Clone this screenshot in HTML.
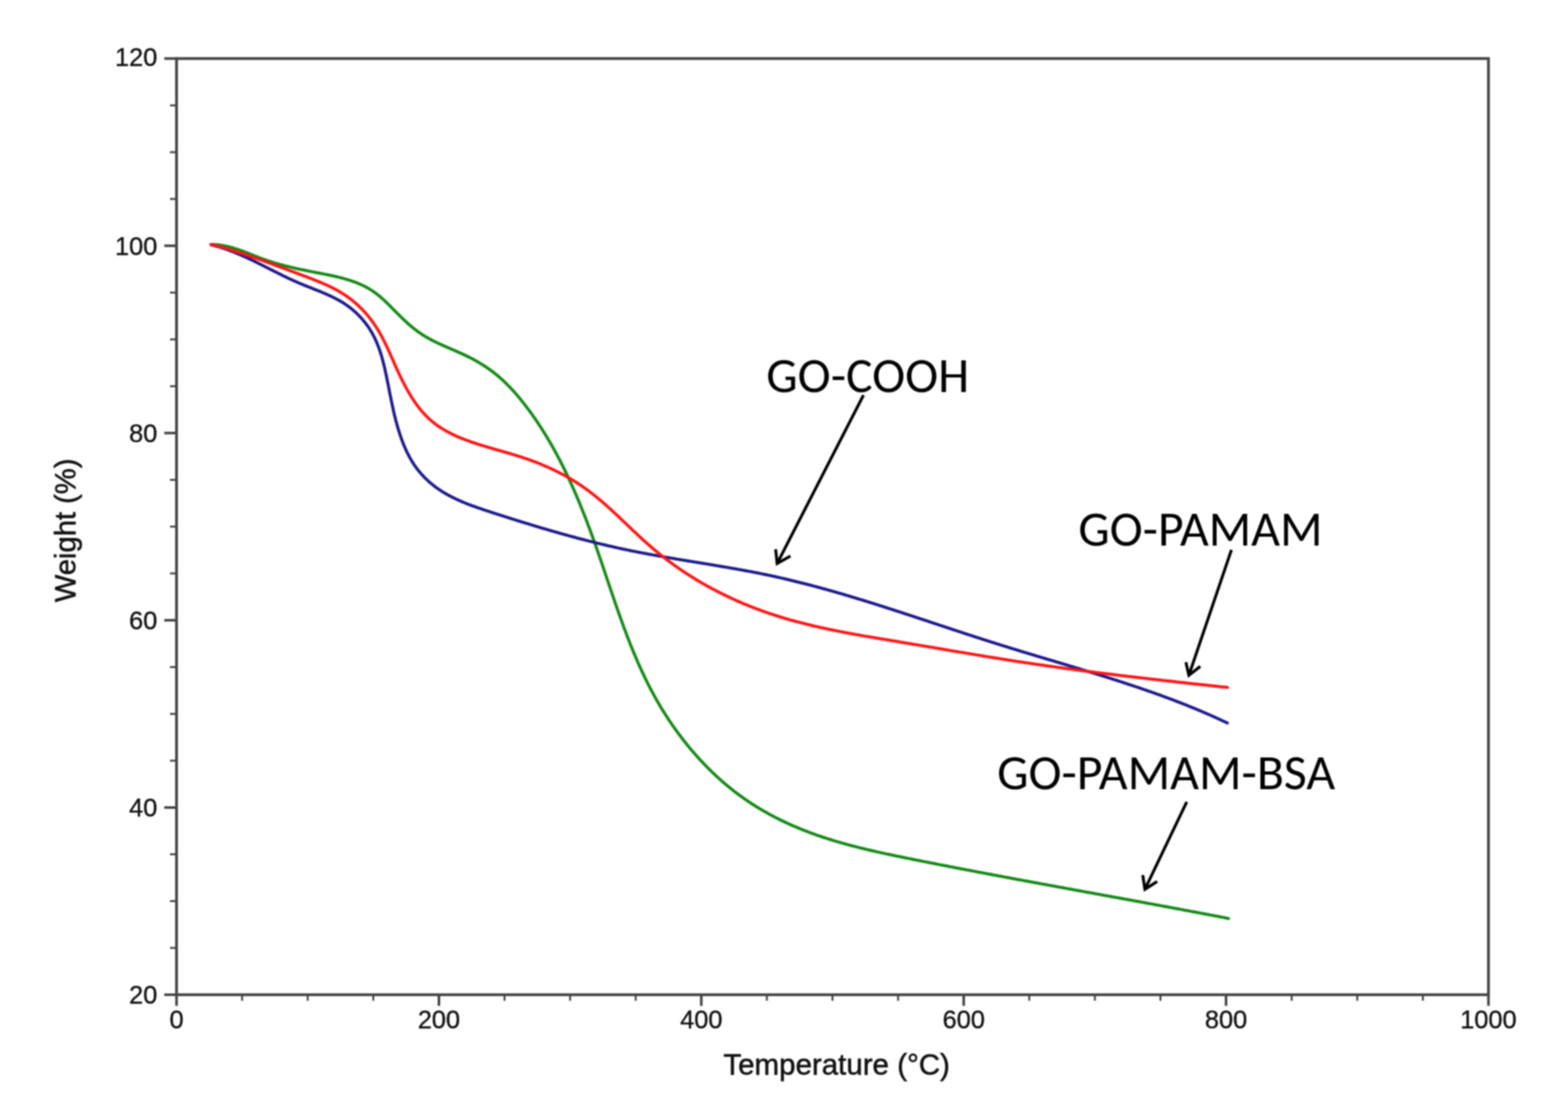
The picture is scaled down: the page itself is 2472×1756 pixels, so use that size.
<!DOCTYPE html><html><head><meta charset="utf-8"><title>TGA curves</title><style>
html,body{margin:0;padding:0;background:#fff;}body{width:2472px;height:1756px;overflow:hidden;}
svg{display:block;filter:blur(1px);}
.tl{font-family:"Liberation Sans",Arial,sans-serif;font-size:40px;fill:#111;stroke:#111;stroke-width:0.5px;}
.ax{font-family:"Liberation Sans",Arial,sans-serif;font-size:46px;fill:#111;stroke:#111;stroke-width:0.8px;}
.an{font-family:Carlito,"Liberation Sans",sans-serif;font-size:78px;font-size-adjust:cap-height 0.6416;fill:#000;}
</style></head><body>
<svg width="2472" height="1756" viewBox="0 0 2472 1756">
<rect width="2472" height="1756" fill="#fff"/>
<line x1="259" y1="1568.0" x2="278.3" y2="1568.0" stroke="#404040" stroke-width="4"/><line x1="268" y1="1494.2" x2="278.3" y2="1494.2" stroke="#404040" stroke-width="3"/><line x1="268" y1="1420.4" x2="278.3" y2="1420.4" stroke="#404040" stroke-width="3"/><line x1="268" y1="1346.6" x2="278.3" y2="1346.6" stroke="#404040" stroke-width="3"/><line x1="259" y1="1272.9" x2="278.3" y2="1272.9" stroke="#404040" stroke-width="4"/><line x1="268" y1="1199.1" x2="278.3" y2="1199.1" stroke="#404040" stroke-width="3"/><line x1="268" y1="1125.3" x2="278.3" y2="1125.3" stroke="#404040" stroke-width="3"/><line x1="268" y1="1051.5" x2="278.3" y2="1051.5" stroke="#404040" stroke-width="3"/><line x1="259" y1="977.7" x2="278.3" y2="977.7" stroke="#404040" stroke-width="4"/><line x1="268" y1="903.9" x2="278.3" y2="903.9" stroke="#404040" stroke-width="3"/><line x1="268" y1="830.1" x2="278.3" y2="830.1" stroke="#404040" stroke-width="3"/><line x1="268" y1="756.4" x2="278.3" y2="756.4" stroke="#404040" stroke-width="3"/><line x1="259" y1="682.6" x2="278.3" y2="682.6" stroke="#404040" stroke-width="4"/><line x1="268" y1="608.8" x2="278.3" y2="608.8" stroke="#404040" stroke-width="3"/><line x1="268" y1="535.0" x2="278.3" y2="535.0" stroke="#404040" stroke-width="3"/><line x1="268" y1="461.2" x2="278.3" y2="461.2" stroke="#404040" stroke-width="3"/><line x1="259" y1="387.4" x2="278.3" y2="387.4" stroke="#404040" stroke-width="4"/><line x1="268" y1="313.7" x2="278.3" y2="313.7" stroke="#404040" stroke-width="3"/><line x1="268" y1="239.9" x2="278.3" y2="239.9" stroke="#404040" stroke-width="3"/><line x1="268" y1="166.1" x2="278.3" y2="166.1" stroke="#404040" stroke-width="3"/><line x1="259" y1="92.3" x2="278.3" y2="92.3" stroke="#404040" stroke-width="4"/><line x1="278.3" y1="1568.0" x2="278.3" y2="1585.5" stroke="#404040" stroke-width="4"/><line x1="381.7" y1="1568.0" x2="381.7" y2="1577.5" stroke="#404040" stroke-width="3"/><line x1="485.1" y1="1568.0" x2="485.1" y2="1577.5" stroke="#404040" stroke-width="3"/><line x1="588.5" y1="1568.0" x2="588.5" y2="1577.5" stroke="#404040" stroke-width="3"/><line x1="692.0" y1="1568.0" x2="692.0" y2="1585.5" stroke="#404040" stroke-width="4"/><line x1="795.4" y1="1568.0" x2="795.4" y2="1577.5" stroke="#404040" stroke-width="3"/><line x1="898.8" y1="1568.0" x2="898.8" y2="1577.5" stroke="#404040" stroke-width="3"/><line x1="1002.2" y1="1568.0" x2="1002.2" y2="1577.5" stroke="#404040" stroke-width="3"/><line x1="1105.6" y1="1568.0" x2="1105.6" y2="1585.5" stroke="#404040" stroke-width="4"/><line x1="1209.0" y1="1568.0" x2="1209.0" y2="1577.5" stroke="#404040" stroke-width="3"/><line x1="1312.4" y1="1568.0" x2="1312.4" y2="1577.5" stroke="#404040" stroke-width="3"/><line x1="1415.9" y1="1568.0" x2="1415.9" y2="1577.5" stroke="#404040" stroke-width="3"/><line x1="1519.3" y1="1568.0" x2="1519.3" y2="1585.5" stroke="#404040" stroke-width="4"/><line x1="1622.7" y1="1568.0" x2="1622.7" y2="1577.5" stroke="#404040" stroke-width="3"/><line x1="1726.1" y1="1568.0" x2="1726.1" y2="1577.5" stroke="#404040" stroke-width="3"/><line x1="1829.5" y1="1568.0" x2="1829.5" y2="1577.5" stroke="#404040" stroke-width="3"/><line x1="1932.9" y1="1568.0" x2="1932.9" y2="1585.5" stroke="#404040" stroke-width="4"/><line x1="2036.4" y1="1568.0" x2="2036.4" y2="1577.5" stroke="#404040" stroke-width="3"/><line x1="2139.8" y1="1568.0" x2="2139.8" y2="1577.5" stroke="#404040" stroke-width="3"/><line x1="2243.2" y1="1568.0" x2="2243.2" y2="1577.5" stroke="#404040" stroke-width="3"/><line x1="2346.6" y1="1568.0" x2="2346.6" y2="1585.5" stroke="#404040" stroke-width="4"/>
<rect x="278.3" y="92.3" width="2068.3" height="1475.7" fill="none" stroke="#444" stroke-width="4.4"/>
<text class="tl" x="248" y="1582.3" text-anchor="end">20</text>
<text class="tl" x="248" y="1287.2" text-anchor="end">40</text>
<text class="tl" x="248" y="992.0" text-anchor="end">60</text>
<text class="tl" x="248" y="696.9" text-anchor="end">80</text>
<text class="tl" x="248" y="401.7" text-anchor="end">100</text>
<text class="tl" x="248" y="103.6" text-anchor="end">120</text>
<text class="tl" x="278.3" y="1621" text-anchor="middle">0</text>
<text class="tl" x="692.0" y="1621" text-anchor="middle">200</text>
<text class="tl" x="1105.6" y="1621" text-anchor="middle">400</text>
<text class="tl" x="1519.3" y="1621" text-anchor="middle">600</text>
<text class="tl" x="1932.9" y="1621" text-anchor="middle">800</text>
<text class="tl" x="2346.6" y="1621" text-anchor="middle">1000</text>
<text class="ax" x="1319" y="1694" text-anchor="middle" style="font-size:46.5px">Temperature (°C)</text>
<text class="ax" transform="translate(118.5,836) rotate(-90)" text-anchor="middle">Weight (%)</text>
<path d="M335.0,385.5 L337.3,385.5 L339.7,385.6 L342.0,385.8 L344.3,386.0 L346.6,386.3 L348.9,386.6 L351.2,387.0 L353.4,387.4 L355.7,387.8 L358.0,388.3 L360.2,388.8 L362.4,389.4 L364.7,390.0 L366.9,390.6 L369.1,391.3 L371.3,392.0 L373.5,392.7 L375.7,393.4 L377.9,394.2 L380.1,395.0 L382.2,395.8 L384.4,396.6 L386.6,397.4 L388.8,398.3 L390.9,399.1 L393.1,399.9 L395.2,400.8 L397.4,401.7 L399.6,402.5 L401.7,403.4 L403.9,404.2 L406.1,405.1 L408.2,405.9 L410.4,406.7 L412.6,407.6 L414.7,408.4 L416.9,409.1 L419.1,409.9 L421.3,410.7 L423.5,411.4 L425.6,412.1 L427.8,412.8 L430.0,413.5 L432.2,414.2 L434.4,414.8 L436.6,415.5 L438.8,416.1 L441.1,416.7 L443.3,417.3 L445.5,417.9 L447.7,418.5 L449.9,419.1 L452.2,419.6 L454.4,420.2 L456.6,420.7 L458.9,421.3 L461.1,421.8 L463.3,422.3 L465.6,422.8 L467.8,423.3 L470.1,423.8 L472.3,424.3 L474.6,424.8 L476.9,425.2 L479.1,425.7 L481.4,426.2 L483.7,426.6 L485.9,427.1 L488.2,427.6 L490.5,428.0 L492.8,428.5 L495.0,428.9 L497.3,429.3 L499.6,429.8 L501.9,430.2 L504.2,430.7 L506.5,431.1 L508.8,431.6 L511.1,432.0 L513.4,432.5 L515.7,432.9 L518.0,433.4 L520.2,433.9 L522.5,434.4 L524.8,434.9 L527.1,435.4 L529.4,435.9 L531.6,436.4 L533.9,437.0 L536.2,437.5 L538.4,438.1 L540.6,438.7 L542.9,439.3 L545.1,440.0 L547.3,440.6 L549.5,441.3 L551.7,442.0 L553.9,442.7 L556.0,443.4 L558.2,444.2 L560.3,445.0 L562.5,445.8 L564.6,446.7 L566.7,447.6 L568.8,448.5 L570.8,449.4 L572.9,450.4 L574.9,451.4 L576.9,452.4 L578.9,453.5 L580.9,454.6 L582.8,455.8 L584.8,457.0 L586.7,458.2 L588.6,459.5 L590.4,460.8 L592.3,462.2 L594.1,463.5 L595.9,465.0 L597.7,466.4 L599.5,467.9 L601.2,469.4 L603.0,471.0 L604.7,472.5 L606.4,474.1 L608.1,475.7 L609.8,477.3 L611.5,479.0 L613.2,480.6 L614.9,482.3 L616.5,484.0 L618.2,485.6 L619.8,487.3 L621.5,489.0 L623.2,490.7 L624.8,492.4 L626.5,494.0 L628.1,495.7 L629.8,497.3 L631.5,499.0 L633.1,500.6 L634.8,502.2 L636.5,503.8 L638.2,505.4 L639.9,507.0 L641.6,508.6 L643.3,510.1 L645.0,511.6 L646.8,513.1 L648.5,514.6 L650.3,516.1 L652.1,517.5 L653.8,518.9 L655.6,520.3 L657.5,521.7 L659.3,523.0 L661.2,524.3 L663.0,525.6 L664.9,526.9 L666.8,528.1 L668.7,529.3 L670.7,530.5 L672.7,531.6 L674.6,532.8 L676.6,533.9 L678.6,535.0 L680.6,536.0 L682.7,537.1 L684.7,538.1 L686.8,539.1 L688.8,540.1 L690.9,541.1 L693.0,542.1 L695.1,543.0 L697.2,544.0 L699.3,544.9 L701.4,545.8 L703.5,546.8 L705.7,547.7 L707.8,548.6 L709.9,549.5 L712.0,550.5 L714.2,551.4 L716.3,552.3 L718.4,553.2 L720.6,554.2 L722.7,555.1 L724.8,556.1 L726.9,557.0 L729.0,558.0 L731.2,559.0 L733.3,560.0 L735.4,561.0 L737.4,562.0 L739.5,563.0 L741.6,564.1 L743.7,565.1 L745.7,566.2 L747.8,567.3 L749.8,568.5 L751.8,569.6 L753.8,570.8 L755.8,572.0 L757.8,573.2 L759.8,574.4 L761.8,575.6 L763.7,576.9 L765.7,578.1 L767.6,579.4 L769.5,580.7 L771.4,582.1 L773.3,583.4 L775.1,584.8 L777.0,586.2 L778.8,587.6 L780.6,589.0 L782.4,590.5 L784.2,591.9 L786.0,593.4 L787.7,594.9 L789.4,596.5 L791.2,598.0 L792.9,599.6 L794.5,601.1 L796.2,602.7 L797.9,604.3 L799.5,606.0 L801.1,607.6 L802.8,609.3 L804.4,610.9 L805.9,612.6 L807.5,614.3 L809.1,616.0 L810.6,617.7 L812.2,619.5 L813.7,621.2 L815.2,623.0 L816.7,624.7 L818.2,626.5 L819.7,628.3 L821.1,630.1 L822.6,631.9 L824.0,633.7 L825.5,635.5 L826.9,637.3 L828.3,639.2 L829.7,641.0 L831.1,642.8 L832.5,644.7 L833.9,646.5 L835.2,648.4 L836.6,650.3 L838.0,652.1 L839.3,654.0 L840.6,655.9 L842.0,657.8 L843.3,659.7 L844.6,661.6 L845.9,663.5 L847.2,665.4 L848.4,667.3 L849.7,669.2 L851.0,671.2 L852.2,673.1 L853.5,675.0 L854.7,677.0 L856.0,678.9 L857.2,680.9 L858.4,682.8 L859.6,684.8 L860.8,686.8 L862.0,688.7 L863.2,690.7 L864.4,692.7 L865.6,694.7 L866.7,696.7 L867.9,698.6 L869.0,700.6 L870.2,702.6 L871.3,704.7 L872.4,706.7 L873.5,708.7 L874.7,710.7 L875.8,712.7 L876.9,714.7 L878.0,716.8 L879.0,718.8 L880.1,720.8 L881.2,722.9 L882.3,724.9 L883.3,727.0 L884.4,729.0 L885.4,731.1 L886.5,733.2 L887.5,735.2 L888.5,737.3 L889.5,739.4 L890.6,741.4 L891.6,743.5 L892.6,745.6 L893.6,747.7 L894.6,749.8 L895.5,751.9 L896.5,754.0 L897.5,756.1 L898.5,758.2 L899.4,760.3 L900.4,762.4 L901.3,764.5 L902.3,766.6 L903.2,768.7 L904.2,770.8 L905.1,772.9 L906.0,775.1 L907.0,777.2 L907.9,779.3 L908.8,781.5 L909.7,783.6 L910.6,785.7 L911.5,787.9 L912.4,790.0 L913.3,792.1 L914.2,794.3 L915.0,796.4 L915.9,798.6 L916.8,800.7 L917.6,802.9 L918.5,805.0 L919.4,807.2 L920.2,809.4 L921.1,811.5 L921.9,813.7 L922.8,815.8 L923.6,818.0 L924.4,820.2 L925.3,822.4 L926.1,824.5 L926.9,826.7 L927.7,828.9 L928.5,831.0 L929.4,833.2 L930.2,835.4 L931.0,837.6 L931.8,839.8 L932.6,841.9 L933.4,844.1 L934.2,846.3 L935.0,848.5 L935.7,850.7 L936.5,852.9 L937.3,855.1 L938.1,857.2 L938.9,859.4 L939.6,861.6 L940.4,863.8 L941.2,866.0 L942.0,868.2 L942.7,870.4 L943.5,872.6 L944.2,874.8 L945.0,877.0 L945.8,879.2 L946.5,881.4 L947.3,883.6 L948.0,885.7 L948.8,887.9 L949.5,890.1 L950.3,892.3 L951.0,894.5 L951.7,896.7 L952.5,898.9 L953.2,901.1 L954.0,903.3 L954.7,905.5 L955.5,907.7 L956.2,909.9 L956.9,912.1 L957.7,914.3 L958.4,916.5 L959.2,918.7 L959.9,920.9 L960.6,923.1 L961.4,925.3 L962.1,927.4 L962.9,929.6 L963.6,931.8 L964.3,934.0 L965.1,936.2 L965.8,938.4 L966.6,940.6 L967.3,942.8 L968.1,945.0 L968.8,947.2 L969.6,949.3 L970.3,951.5 L971.1,953.7 L971.8,955.9 L972.6,958.1 L973.3,960.2 L974.1,962.4 L974.9,964.6 L975.6,966.8 L976.4,969.0 L977.2,971.1 L977.9,973.3 L978.7,975.5 L979.5,977.6 L980.3,979.8 L981.1,982.0 L981.9,984.1 L982.6,986.3 L983.4,988.5 L984.2,990.6 L985.0,992.8 L985.8,994.9 L986.7,997.1 L987.5,999.3 L988.3,1001.4 L989.1,1003.6 L989.9,1005.7 L990.8,1007.8 L991.6,1010.0 L992.4,1012.1 L993.3,1014.3 L994.1,1016.4 L995.0,1018.5 L995.8,1020.7 L996.7,1022.8 L997.6,1024.9 L998.4,1027.1 L999.3,1029.2 L1000.2,1031.3 L1001.1,1033.4 L1002.0,1035.5 L1002.9,1037.7 L1003.8,1039.8 L1004.7,1041.9 L1005.6,1044.0 L1006.6,1046.1 L1007.5,1048.2 L1008.4,1050.3 L1009.4,1052.4 L1010.3,1054.5 L1011.3,1056.6 L1012.2,1058.6 L1013.2,1060.7 L1014.2,1062.8 L1015.2,1064.9 L1016.2,1067.0 L1017.2,1069.0 L1018.2,1071.1 L1019.2,1073.2 L1020.2,1075.2 L1021.2,1077.3 L1022.3,1079.3 L1023.3,1081.4 L1024.4,1083.4 L1025.4,1085.5 L1026.5,1087.5 L1027.6,1089.6 L1028.7,1091.6 L1029.8,1093.6 L1030.9,1095.6 L1032.0,1097.7 L1033.1,1099.7 L1034.2,1101.7 L1035.4,1103.7 L1036.5,1105.7 L1037.7,1107.7 L1038.9,1109.7 L1040.0,1111.7 L1041.2,1113.7 L1042.4,1115.7 L1043.6,1117.7 L1044.8,1119.7 L1046.1,1121.6 L1047.3,1123.6 L1048.5,1125.6 L1049.8,1127.5 L1051.1,1129.5 L1052.3,1131.4 L1053.6,1133.4 L1054.9,1135.3 L1056.2,1137.2 L1057.5,1139.2 L1058.8,1141.1 L1060.1,1143.0 L1061.4,1144.9 L1062.8,1146.8 L1064.1,1148.7 L1065.5,1150.6 L1066.8,1152.5 L1068.2,1154.4 L1069.6,1156.3 L1071.0,1158.1 L1072.4,1160.0 L1073.8,1161.9 L1075.2,1163.7 L1076.6,1165.6 L1078.1,1167.4 L1079.5,1169.2 L1081.0,1171.1 L1082.4,1172.9 L1083.9,1174.7 L1085.3,1176.5 L1086.8,1178.3 L1088.3,1180.1 L1089.8,1181.9 L1091.3,1183.7 L1092.8,1185.4 L1094.4,1187.2 L1095.9,1188.9 L1097.4,1190.7 L1099.0,1192.4 L1100.6,1194.2 L1102.1,1195.9 L1103.7,1197.6 L1105.3,1199.3 L1106.9,1201.0 L1108.5,1202.7 L1110.1,1204.4 L1111.7,1206.0 L1113.3,1207.7 L1114.9,1209.4 L1116.6,1211.0 L1118.2,1212.7 L1119.9,1214.3 L1121.5,1215.9 L1123.2,1217.5 L1124.9,1219.1 L1126.6,1220.7 L1128.3,1222.3 L1130.0,1223.9 L1131.7,1225.5 L1133.4,1227.0 L1135.1,1228.6 L1136.8,1230.1 L1138.6,1231.6 L1140.3,1233.1 L1142.1,1234.7 L1143.8,1236.2 L1145.6,1237.6 L1147.4,1239.1 L1149.2,1240.6 L1151.0,1242.0 L1152.8,1243.5 L1154.6,1244.9 L1156.4,1246.4 L1158.2,1247.8 L1160.0,1249.2 L1161.9,1250.6 L1163.7,1252.0 L1165.6,1253.3 L1167.4,1254.7 L1169.3,1256.0 L1171.2,1257.4 L1173.0,1258.7 L1174.9,1260.0 L1176.8,1261.3 L1178.7,1262.6 L1180.6,1263.9 L1182.5,1265.2 L1184.5,1266.4 L1186.4,1267.7 L1188.3,1268.9 L1190.3,1270.2 L1192.2,1271.4 L1194.2,1272.6 L1196.2,1273.8 L1198.1,1275.0 L1200.1,1276.1 L1202.1,1277.3 L1204.1,1278.5 L1206.1,1279.6 L1208.1,1280.7 L1210.1,1281.8 L1212.1,1283.0 L1214.1,1284.1 L1216.1,1285.1 L1218.1,1286.2 L1220.2,1287.3 L1222.2,1288.3 L1224.3,1289.4 L1226.3,1290.4 L1228.4,1291.5 L1230.4,1292.5 L1232.5,1293.5 L1234.6,1294.5 L1236.7,1295.5 L1238.7,1296.5 L1240.8,1297.4 L1242.9,1298.4 L1245.0,1299.3 L1247.1,1300.3 L1249.2,1301.2 L1251.3,1302.1 L1253.4,1303.0 L1255.6,1303.9 L1257.7,1304.8 L1259.8,1305.7 L1261.9,1306.6 L1264.1,1307.5 L1266.2,1308.3 L1268.4,1309.2 L1270.5,1310.0 L1272.7,1310.8 L1274.8,1311.6 L1277.0,1312.5 L1279.1,1313.3 L1281.3,1314.1 L1283.5,1314.8 L1285.6,1315.6 L1287.8,1316.4 L1290.0,1317.2 L1292.2,1317.9 L1294.4,1318.6 L1296.5,1319.4 L1298.7,1320.1 L1300.9,1320.8 L1303.1,1321.5 L1305.3,1322.2 L1307.5,1322.9 L1309.7,1323.6 L1311.9,1324.3 L1314.1,1325.0 L1316.4,1325.7 L1318.6,1326.3 L1320.8,1327.0 L1323.0,1327.6 L1325.2,1328.3 L1327.5,1328.9 L1329.7,1329.5 L1331.9,1330.1 L1334.2,1330.8 L1336.4,1331.4 L1338.6,1332.0 L1340.9,1332.6 L1343.1,1333.2 L1345.3,1333.7 L1347.6,1334.3 L1349.8,1334.9 L1352.1,1335.5 L1354.3,1336.0 L1356.6,1336.6 L1358.8,1337.1 L1361.1,1337.7 L1363.3,1338.2 L1365.6,1338.8 L1367.9,1339.3 L1370.1,1339.9 L1372.4,1340.4 L1374.6,1340.9 L1376.9,1341.4 L1379.2,1341.9 L1381.4,1342.5 L1383.7,1343.0 L1386.0,1343.5 L1388.2,1344.0 L1390.5,1344.5 L1392.8,1345.0 L1395.1,1345.5 L1397.3,1346.0 L1399.6,1346.4 L1401.9,1346.9 L1404.2,1347.4 L1406.4,1347.9 L1408.7,1348.4 L1411.0,1348.8 L1413.3,1349.3 L1415.5,1349.8 L1417.8,1350.2 L1420.1,1350.7 L1422.4,1351.2 L1424.7,1351.6 L1426.9,1352.1 L1429.2,1352.6 L1431.5,1353.0 L1433.8,1353.5 L1436.1,1353.9 L1438.3,1354.4 L1440.6,1354.9 L1442.9,1355.3 L1445.2,1355.8 L1447.5,1356.2 L1449.7,1356.7 L1452.0,1357.1 L1454.3,1357.6 L1456.6,1358.0 L1458.8,1358.5 L1461.1,1358.9 L1463.4,1359.4 L1465.7,1359.8 L1468.0,1360.3 L1470.2,1360.7 L1472.5,1361.2 L1474.8,1361.6 L1477.1,1362.1 L1479.3,1362.5 L1481.6,1363.0 L1483.9,1363.4 L1486.2,1363.9 L1488.5,1364.3 L1490.7,1364.7 L1493.0,1365.2 L1495.3,1365.6 L1497.6,1366.1 L1499.8,1366.5 L1502.1,1366.9 L1504.4,1367.4 L1506.7,1367.8 L1508.9,1368.3 L1511.2,1368.7 L1513.5,1369.1 L1515.8,1369.6 L1518.0,1370.0 L1520.3,1370.4 L1522.6,1370.9 L1524.9,1371.3 L1527.1,1371.7 L1529.4,1372.2 L1531.7,1372.6 L1534.0,1373.0 L1536.2,1373.5 L1538.5,1373.9 L1540.8,1374.3 L1543.1,1374.8 L1545.3,1375.2 L1547.6,1375.6 L1549.9,1376.1 L1552.2,1376.5 L1554.4,1376.9 L1556.7,1377.4 L1559.0,1377.8 L1561.3,1378.2 L1563.5,1378.6 L1565.8,1379.1 L1568.1,1379.5 L1570.4,1379.9 L1572.6,1380.3 L1574.9,1380.8 L1577.2,1381.2 L1579.4,1381.6 L1581.7,1382.0 L1584.0,1382.5 L1586.3,1382.9 L1588.5,1383.3 L1590.8,1383.7 L1593.1,1384.2 L1595.4,1384.6 L1597.6,1385.0 L1599.9,1385.4 L1602.2,1385.9 L1604.5,1386.3 L1606.7,1386.7 L1609.0,1387.1 L1611.3,1387.5 L1613.5,1388.0 L1615.8,1388.4 L1618.1,1388.8 L1620.4,1389.2 L1622.6,1389.6 L1624.9,1390.1 L1627.2,1390.5 L1629.5,1390.9 L1631.7,1391.3 L1634.0,1391.7 L1636.3,1392.1 L1638.5,1392.6 L1640.8,1393.0 L1643.1,1393.4 L1645.4,1393.8 L1647.6,1394.2 L1649.9,1394.7 L1652.2,1395.1 L1654.5,1395.5 L1656.7,1395.9 L1659.0,1396.3 L1661.3,1396.7 L1663.5,1397.2 L1665.8,1397.6 L1668.1,1398.0 L1670.4,1398.4 L1672.6,1398.8 L1674.9,1399.2 L1677.2,1399.6 L1679.5,1400.1 L1681.7,1400.5 L1684.0,1400.9 L1686.3,1401.3 L1688.5,1401.7 L1690.8,1402.1 L1693.1,1402.6 L1695.4,1403.0 L1697.6,1403.4 L1699.9,1403.8 L1702.2,1404.2 L1704.5,1404.6 L1706.7,1405.0 L1709.0,1405.5 L1711.3,1405.9 L1713.5,1406.3 L1715.8,1406.7 L1718.1,1407.1 L1720.4,1407.5 L1722.6,1407.9 L1724.9,1408.4 L1727.2,1408.8 L1729.5,1409.2 L1731.7,1409.6 L1734.0,1410.0 L1736.3,1410.4 L1738.6,1410.8 L1740.8,1411.3 L1743.1,1411.7 L1745.4,1412.1 L1747.7,1412.5 L1749.9,1412.9 L1752.2,1413.3 L1754.5,1413.8 L1756.8,1414.2 L1759.0,1414.6 L1761.3,1415.0 L1763.6,1415.4 L1765.9,1415.8 L1768.1,1416.2 L1770.4,1416.7 L1772.7,1417.1 L1775.0,1417.5 L1777.2,1417.9 L1779.5,1418.3 L1781.8,1418.7 L1784.1,1419.2 L1786.3,1419.6 L1788.6,1420.0 L1790.9,1420.4 L1793.2,1420.8 L1795.4,1421.2 L1797.7,1421.7 L1800.0,1422.1 L1802.3,1422.5 L1804.5,1422.9 L1806.8,1423.3 L1809.1,1423.8 L1811.4,1424.2 L1813.6,1424.6 L1815.9,1425.0 L1818.2,1425.4 L1820.5,1425.9 L1822.7,1426.3 L1825.0,1426.7 L1827.3,1427.1 L1829.6,1427.5 L1831.9,1428.0 L1834.1,1428.4 L1836.4,1428.8 L1838.7,1429.2 L1841.0,1429.7 L1843.2,1430.1 L1845.5,1430.5 L1847.8,1430.9 L1850.1,1431.3 L1852.4,1431.8 L1854.6,1432.2 L1856.9,1432.6 L1859.2,1433.0 L1861.5,1433.5 L1863.8,1433.9 L1866.0,1434.3 L1868.3,1434.8 L1870.6,1435.2 L1872.9,1435.6 L1875.2,1436.0 L1877.4,1436.5 L1879.7,1436.9 L1882.0,1437.3 L1884.3,1437.7 L1886.6,1438.2 L1888.8,1438.6 L1891.1,1439.0 L1893.4,1439.5 L1895.7,1439.9 L1898.0,1440.3 L1900.3,1440.8 L1902.5,1441.2 L1904.8,1441.6 L1907.1,1442.1 L1909.4,1442.5 L1911.7,1442.9 L1914.0,1443.4 L1916.2,1443.8 L1918.5,1444.2 L1920.8,1444.7 L1923.1,1445.1 L1925.4,1445.6 L1927.7,1446.0 L1929.9,1446.4 L1932.2,1446.9 L1934.5,1447.3 L1936.8,1447.8" fill="none" stroke="#158a17" stroke-width="4.8" stroke-linejoin="round" stroke-linecap="round"/>
<path d="M332.8,386.0 L334.8,386.5 L336.9,387.0 L338.9,387.5 L340.9,388.1 L343.0,388.7 L345.0,389.2 L347.0,389.8 L349.0,390.5 L351.0,391.1 L352.9,391.7 L354.9,392.4 L356.9,393.1 L358.8,393.8 L360.8,394.5 L362.7,395.2 L364.6,395.9 L366.6,396.6 L368.5,397.4 L370.4,398.2 L372.3,398.9 L374.2,399.7 L376.1,400.5 L378.0,401.3 L379.9,402.1 L381.8,403.0 L383.7,403.8 L385.6,404.6 L387.4,405.5 L389.3,406.3 L391.2,407.2 L393.0,408.1 L394.9,409.0 L396.7,409.8 L398.6,410.7 L400.4,411.6 L402.3,412.5 L404.1,413.4 L406.0,414.4 L407.8,415.3 L409.7,416.2 L411.5,417.1 L413.4,418.0 L415.2,419.0 L417.1,419.9 L418.9,420.8 L420.7,421.8 L422.6,422.7 L424.4,423.6 L426.3,424.6 L428.1,425.5 L430.0,426.4 L431.8,427.4 L433.7,428.3 L435.5,429.2 L437.4,430.2 L439.2,431.1 L441.1,432.0 L443.0,432.9 L444.8,433.9 L446.7,434.8 L448.6,435.7 L450.4,436.6 L452.3,437.5 L454.2,438.4 L456.1,439.3 L458.0,440.2 L459.9,441.0 L461.8,441.9 L463.7,442.8 L465.7,443.6 L467.6,444.5 L469.5,445.3 L471.4,446.1 L473.4,447.0 L475.3,447.8 L477.3,448.6 L479.3,449.4 L481.2,450.2 L483.2,451.0 L485.2,451.8 L487.1,452.6 L489.1,453.3 L491.1,454.1 L493.1,454.9 L495.0,455.7 L497.0,456.5 L499.0,457.3 L500.9,458.0 L502.9,458.8 L504.9,459.6 L506.8,460.4 L508.8,461.3 L510.7,462.1 L512.6,462.9 L514.6,463.8 L516.5,464.6 L518.4,465.5 L520.3,466.3 L522.2,467.2 L524.1,468.1 L525.9,469.0 L527.8,470.0 L529.6,470.9 L531.4,471.9 L533.3,472.9 L535.1,473.9 L536.8,474.9 L538.6,475.9 L540.4,477.0 L542.1,478.1 L543.8,479.2 L545.5,480.4 L547.2,481.5 L548.8,482.7 L550.5,483.9 L552.1,485.2 L553.7,486.4 L555.3,487.7 L556.8,489.0 L558.4,490.3 L559.9,491.7 L561.4,493.1 L562.8,494.4 L564.3,495.9 L565.7,497.3 L567.1,498.8 L568.5,500.2 L569.9,501.7 L571.2,503.3 L572.5,504.8 L573.8,506.4 L575.1,507.9 L576.3,509.5 L577.5,511.1 L578.7,512.8 L579.9,514.4 L581.1,516.1 L582.2,517.8 L583.3,519.5 L584.4,521.2 L585.4,523.0 L586.4,524.7 L587.4,526.5 L588.4,528.3 L589.3,530.1 L590.3,531.9 L591.2,533.8 L592.0,535.6 L592.9,537.5 L593.7,539.4 L594.5,541.3 L595.3,543.2 L596.0,545.1 L596.8,547.1 L597.5,549.0 L598.2,551.0 L598.8,552.9 L599.5,554.9 L600.1,556.9 L600.8,558.9 L601.4,560.9 L602.0,562.9 L602.5,564.9 L603.1,567.0 L603.6,569.0 L604.2,571.0 L604.7,573.1 L605.2,575.1 L605.7,577.2 L606.2,579.2 L606.7,581.3 L607.1,583.4 L607.6,585.4 L608.0,587.5 L608.5,589.6 L608.9,591.7 L609.4,593.7 L609.8,595.8 L610.2,597.9 L610.6,600.0 L611.0,602.1 L611.5,604.1 L611.9,606.2 L612.3,608.3 L612.7,610.3 L613.1,612.4 L613.5,614.5 L613.9,616.5 L614.3,618.6 L614.7,620.7 L615.1,622.7 L615.6,624.8 L616.0,626.8 L616.4,628.9 L616.8,630.9 L617.2,633.0 L617.7,635.0 L618.1,637.1 L618.5,639.1 L619.0,641.2 L619.4,643.2 L619.9,645.2 L620.3,647.3 L620.8,649.3 L621.2,651.3 L621.7,653.4 L622.2,655.4 L622.7,657.4 L623.2,659.4 L623.7,661.4 L624.2,663.4 L624.8,665.5 L625.3,667.5 L625.9,669.5 L626.4,671.5 L627.0,673.5 L627.6,675.5 L628.2,677.5 L628.8,679.5 L629.4,681.4 L630.1,683.4 L630.7,685.4 L631.4,687.4 L632.1,689.4 L632.7,691.3 L633.5,693.3 L634.2,695.2 L634.9,697.2 L635.7,699.1 L636.5,701.1 L637.3,703.0 L638.1,704.9 L638.9,706.8 L639.8,708.7 L640.6,710.6 L641.5,712.5 L642.4,714.3 L643.4,716.2 L644.3,718.0 L645.3,719.8 L646.3,721.7 L647.3,723.4 L648.3,725.2 L649.4,727.0 L650.4,728.7 L651.6,730.5 L652.7,732.2 L653.8,733.9 L655.0,735.6 L656.2,737.2 L657.4,738.9 L658.7,740.5 L660.0,742.1 L661.2,743.7 L662.6,745.2 L663.9,746.8 L665.3,748.3 L666.6,749.8 L668.1,751.3 L669.5,752.8 L670.9,754.2 L672.4,755.6 L673.9,757.0 L675.4,758.4 L676.9,759.8 L678.4,761.1 L680.0,762.4 L681.6,763.7 L683.2,765.0 L684.8,766.3 L686.4,767.5 L688.0,768.7 L689.7,769.9 L691.4,771.0 L693.1,772.2 L694.8,773.3 L696.5,774.4 L698.2,775.5 L700.0,776.6 L701.7,777.6 L703.5,778.6 L705.3,779.6 L707.1,780.6 L708.9,781.6 L710.7,782.5 L712.5,783.5 L714.4,784.4 L716.2,785.3 L718.1,786.2 L720.0,787.1 L721.8,788.0 L723.7,788.8 L725.6,789.6 L727.5,790.5 L729.5,791.3 L731.4,792.1 L733.3,792.9 L735.3,793.7 L737.2,794.4 L739.2,795.2 L741.1,795.9 L743.1,796.7 L745.0,797.4 L747.0,798.1 L749.0,798.8 L751.0,799.5 L753.0,800.2 L755.0,800.9 L757.0,801.6 L759.0,802.3 L761.0,803.0 L763.0,803.7 L765.0,804.3 L767.0,805.0 L769.0,805.6 L771.0,806.3 L773.0,807.0 L775.0,807.6 L777.0,808.3 L779.0,808.9 L781.0,809.6 L783.0,810.2 L785.0,810.8 L787.0,811.5 L789.1,812.1 L791.1,812.8 L793.1,813.4 L795.1,814.1 L797.1,814.7 L799.1,815.3 L801.1,816.0 L803.1,816.6 L805.1,817.2 L807.1,817.9 L809.1,818.5 L811.1,819.1 L813.1,819.7 L815.1,820.4 L817.1,821.0 L819.1,821.6 L821.1,822.2 L823.1,822.9 L825.1,823.5 L827.1,824.1 L829.1,824.7 L831.1,825.3 L833.1,825.9 L835.1,826.5 L837.1,827.2 L839.1,827.8 L841.1,828.4 L843.1,829.0 L845.1,829.6 L847.0,830.2 L849.0,830.8 L851.0,831.4 L853.0,832.0 L855.0,832.6 L857.0,833.1 L859.0,833.7 L861.0,834.3 L863.0,834.9 L865.0,835.5 L867.0,836.1 L869.0,836.6 L871.0,837.2 L873.0,837.8 L875.0,838.4 L877.0,838.9 L879.0,839.5 L881.0,840.1 L883.0,840.6 L885.0,841.2 L887.0,841.8 L889.0,842.3 L891.0,842.9 L893.0,843.4 L895.0,844.0 L897.0,844.5 L899.0,845.1 L901.0,845.6 L903.0,846.2 L905.0,846.7 L907.0,847.2 L909.0,847.8 L911.0,848.3 L913.0,848.8 L915.0,849.4 L917.0,849.9 L919.0,850.4 L921.0,850.9 L923.0,851.5 L925.0,852.0 L927.0,852.5 L929.0,853.0 L931.0,853.5 L933.0,854.0 L935.0,854.5 L937.0,855.0 L939.1,855.5 L941.1,856.0 L943.1,856.5 L945.1,857.0 L947.1,857.5 L949.1,857.9 L951.1,858.4 L953.1,858.9 L955.2,859.4 L957.2,859.8 L959.2,860.3 L961.2,860.8 L963.2,861.2 L965.2,861.7 L967.3,862.2 L969.3,862.6 L971.3,863.1 L973.3,863.5 L975.3,864.0 L977.4,864.4 L979.4,864.8 L981.4,865.3 L983.4,865.7 L985.5,866.1 L987.5,866.6 L989.5,867.0 L991.6,867.4 L993.6,867.8 L995.6,868.3 L997.6,868.7 L999.7,869.1 L1001.7,869.5 L1003.8,869.9 L1005.8,870.3 L1007.8,870.7 L1009.9,871.1 L1011.9,871.5 L1013.9,871.8 L1016.0,872.2 L1018.0,872.6 L1020.1,873.0 L1022.1,873.4 L1024.2,873.8 L1026.2,874.1 L1028.2,874.5 L1030.3,874.9 L1032.3,875.2 L1034.4,875.6 L1036.4,876.0 L1038.5,876.3 L1040.5,876.7 L1042.6,877.1 L1044.6,877.4 L1046.7,877.8 L1048.7,878.1 L1050.8,878.5 L1052.8,878.8 L1054.9,879.2 L1056.9,879.5 L1059.0,879.9 L1061.1,880.2 L1063.1,880.6 L1065.2,880.9 L1067.2,881.3 L1069.3,881.6 L1071.3,882.0 L1073.4,882.3 L1075.4,882.6 L1077.5,883.0 L1079.6,883.3 L1081.6,883.7 L1083.7,884.0 L1085.7,884.3 L1087.8,884.7 L1089.8,885.0 L1091.9,885.3 L1094.0,885.7 L1096.0,886.0 L1098.1,886.3 L1100.1,886.7 L1102.2,887.0 L1104.3,887.4 L1106.3,887.7 L1108.4,888.0 L1110.4,888.4 L1112.5,888.7 L1114.5,889.0 L1116.6,889.4 L1118.7,889.7 L1120.7,890.1 L1122.8,890.4 L1124.8,890.7 L1126.9,891.1 L1129.0,891.4 L1131.0,891.8 L1133.1,892.1 L1135.1,892.5 L1137.2,892.8 L1139.2,893.2 L1141.3,893.5 L1143.3,893.9 L1145.4,894.2 L1147.5,894.6 L1149.5,894.9 L1151.6,895.3 L1153.6,895.6 L1155.7,896.0 L1157.7,896.4 L1159.8,896.7 L1161.8,897.1 L1163.9,897.5 L1165.9,897.8 L1168.0,898.2 L1170.0,898.6 L1172.1,898.9 L1174.1,899.3 L1176.2,899.7 L1178.2,900.1 L1180.3,900.5 L1182.3,900.8 L1184.4,901.2 L1186.4,901.6 L1188.5,902.0 L1190.5,902.4 L1192.6,902.8 L1194.6,903.2 L1196.6,903.6 L1198.7,904.0 L1200.7,904.5 L1202.8,904.9 L1204.8,905.3 L1206.8,905.7 L1208.9,906.1 L1210.9,906.6 L1212.9,907.0 L1215.0,907.4 L1217.0,907.9 L1219.0,908.3 L1221.1,908.7 L1223.1,909.2 L1225.1,909.6 L1227.2,910.1 L1229.2,910.5 L1231.2,911.0 L1233.2,911.5 L1235.3,911.9 L1237.3,912.4 L1239.3,912.9 L1241.3,913.4 L1243.4,913.8 L1245.4,914.3 L1247.4,914.8 L1249.4,915.3 L1251.4,915.8 L1253.5,916.3 L1255.5,916.8 L1257.5,917.3 L1259.5,917.8 L1261.5,918.3 L1263.5,918.8 L1265.5,919.3 L1267.6,919.8 L1269.6,920.3 L1271.6,920.8 L1273.6,921.4 L1275.6,921.9 L1277.6,922.4 L1279.6,922.9 L1281.6,923.5 L1283.6,924.0 L1285.6,924.5 L1287.6,925.1 L1289.6,925.6 L1291.7,926.2 L1293.7,926.7 L1295.7,927.3 L1297.7,927.8 L1299.7,928.4 L1301.7,928.9 L1303.7,929.5 L1305.7,930.0 L1307.7,930.6 L1309.7,931.2 L1311.7,931.7 L1313.7,932.3 L1315.7,932.9 L1317.6,933.4 L1319.6,934.0 L1321.6,934.6 L1323.6,935.2 L1325.6,935.7 L1327.6,936.3 L1329.6,936.9 L1331.6,937.5 L1333.6,938.1 L1335.6,938.7 L1337.6,939.3 L1339.6,939.9 L1341.6,940.5 L1343.6,941.1 L1345.5,941.7 L1347.5,942.3 L1349.5,942.9 L1351.5,943.5 L1353.5,944.1 L1355.5,944.7 L1357.5,945.3 L1359.5,945.9 L1361.4,946.5 L1363.4,947.1 L1365.4,947.7 L1367.4,948.3 L1369.4,949.0 L1371.4,949.6 L1373.4,950.2 L1375.3,950.8 L1377.3,951.4 L1379.3,952.1 L1381.3,952.7 L1383.3,953.3 L1385.2,954.0 L1387.2,954.6 L1389.2,955.2 L1391.2,955.8 L1393.2,956.5 L1395.2,957.1 L1397.1,957.7 L1399.1,958.4 L1401.1,959.0 L1403.1,959.7 L1405.1,960.3 L1407.0,960.9 L1409.0,961.6 L1411.0,962.2 L1413.0,962.9 L1414.9,963.5 L1416.9,964.1 L1418.9,964.8 L1420.9,965.4 L1422.9,966.1 L1424.8,966.7 L1426.8,967.4 L1428.8,968.0 L1430.8,968.7 L1432.7,969.3 L1434.7,970.0 L1436.7,970.6 L1438.7,971.3 L1440.6,971.9 L1442.6,972.6 L1444.6,973.2 L1446.6,973.9 L1448.5,974.5 L1450.5,975.2 L1452.5,975.8 L1454.5,976.5 L1456.4,977.1 L1458.4,977.8 L1460.4,978.4 L1462.4,979.1 L1464.3,979.8 L1466.3,980.4 L1468.3,981.1 L1470.3,981.7 L1472.2,982.4 L1474.2,983.0 L1476.2,983.7 L1478.2,984.3 L1480.1,985.0 L1482.1,985.7 L1484.1,986.3 L1486.1,987.0 L1488.1,987.6 L1490.0,988.3 L1492.0,988.9 L1494.0,989.6 L1496.0,990.2 L1497.9,990.9 L1499.9,991.5 L1501.9,992.2 L1503.9,992.9 L1505.8,993.5 L1507.8,994.2 L1509.8,994.8 L1511.8,995.5 L1513.7,996.1 L1515.7,996.8 L1517.7,997.4 L1519.7,998.1 L1521.7,998.7 L1523.6,999.4 L1525.6,1000.0 L1527.6,1000.7 L1529.6,1001.3 L1531.5,1001.9 L1533.5,1002.6 L1535.5,1003.2 L1537.5,1003.9 L1539.5,1004.5 L1541.4,1005.2 L1543.4,1005.8 L1545.4,1006.4 L1547.4,1007.1 L1549.4,1007.7 L1551.3,1008.4 L1553.3,1009.0 L1555.3,1009.6 L1557.3,1010.3 L1559.3,1010.9 L1561.3,1011.5 L1563.2,1012.2 L1565.2,1012.8 L1567.2,1013.4 L1569.2,1014.0 L1571.2,1014.7 L1573.2,1015.3 L1575.1,1015.9 L1577.1,1016.5 L1579.1,1017.2 L1581.1,1017.8 L1583.1,1018.4 L1585.1,1019.0 L1587.1,1019.6 L1589.1,1020.3 L1591.0,1020.9 L1593.0,1021.5 L1595.0,1022.1 L1597.0,1022.7 L1599.0,1023.3 L1601.0,1023.9 L1603.0,1024.5 L1605.0,1025.1 L1607.0,1025.7 L1608.9,1026.4 L1610.9,1027.0 L1612.9,1027.6 L1614.9,1028.2 L1616.9,1028.8 L1618.9,1029.4 L1620.9,1030.0 L1622.9,1030.6 L1624.9,1031.2 L1626.9,1031.8 L1628.9,1032.4 L1630.9,1033.0 L1632.8,1033.6 L1634.8,1034.2 L1636.8,1034.8 L1638.8,1035.4 L1640.8,1036.0 L1642.8,1036.6 L1644.8,1037.2 L1646.8,1037.8 L1648.8,1038.4 L1650.8,1039.0 L1652.8,1039.6 L1654.8,1040.2 L1656.8,1040.7 L1658.8,1041.3 L1660.8,1041.9 L1662.7,1042.5 L1664.7,1043.1 L1666.7,1043.7 L1668.7,1044.3 L1670.7,1044.9 L1672.7,1045.5 L1674.7,1046.1 L1676.7,1046.7 L1678.7,1047.3 L1680.7,1047.9 L1682.7,1048.5 L1684.7,1049.1 L1686.7,1049.7 L1688.6,1050.3 L1690.6,1050.9 L1692.6,1051.5 L1694.6,1052.1 L1696.6,1052.7 L1698.6,1053.3 L1700.6,1053.9 L1702.6,1054.5 L1704.6,1055.1 L1706.6,1055.7 L1708.6,1056.3 L1710.5,1056.9 L1712.5,1057.5 L1714.5,1058.2 L1716.5,1058.8 L1718.5,1059.4 L1720.5,1060.0 L1722.5,1060.6 L1724.5,1061.2 L1726.4,1061.8 L1728.4,1062.4 L1730.4,1063.0 L1732.4,1063.7 L1734.4,1064.3 L1736.4,1064.9 L1738.4,1065.5 L1740.3,1066.1 L1742.3,1066.8 L1744.3,1067.4 L1746.3,1068.0 L1748.3,1068.6 L1750.3,1069.3 L1752.2,1069.9 L1754.2,1070.5 L1756.2,1071.2 L1758.2,1071.8 L1760.2,1072.4 L1762.1,1073.1 L1764.1,1073.7 L1766.1,1074.3 L1768.1,1075.0 L1770.0,1075.6 L1772.0,1076.3 L1774.0,1076.9 L1776.0,1077.6 L1777.9,1078.2 L1779.9,1078.9 L1781.9,1079.5 L1783.9,1080.2 L1785.8,1080.8 L1787.8,1081.5 L1789.8,1082.2 L1791.7,1082.8 L1793.7,1083.5 L1795.7,1084.1 L1797.6,1084.8 L1799.6,1085.5 L1801.6,1086.2 L1803.5,1086.8 L1805.5,1087.5 L1807.5,1088.2 L1809.4,1088.9 L1811.4,1089.6 L1813.4,1090.3 L1815.3,1090.9 L1817.3,1091.6 L1819.2,1092.3 L1821.2,1093.0 L1823.1,1093.7 L1825.1,1094.4 L1827.1,1095.1 L1829.0,1095.8 L1831.0,1096.6 L1832.9,1097.3 L1834.9,1098.0 L1836.8,1098.7 L1838.8,1099.4 L1840.7,1100.1 L1842.7,1100.9 L1844.6,1101.6 L1846.6,1102.3 L1848.5,1103.1 L1850.5,1103.8 L1852.4,1104.5 L1854.3,1105.3 L1856.3,1106.0 L1858.2,1106.8 L1860.2,1107.5 L1862.1,1108.3 L1864.0,1109.1 L1866.0,1109.8 L1867.9,1110.6 L1869.8,1111.3 L1871.8,1112.1 L1873.7,1112.9 L1875.6,1113.7 L1877.6,1114.5 L1879.5,1115.2 L1881.4,1116.0 L1883.4,1116.8 L1885.3,1117.6 L1887.2,1118.4 L1889.1,1119.2 L1891.0,1120.0 L1893.0,1120.8 L1894.9,1121.6 L1896.8,1122.5 L1898.7,1123.3 L1900.6,1124.1 L1902.6,1124.9 L1904.5,1125.8 L1906.4,1126.6 L1908.3,1127.4 L1910.2,1128.3 L1912.1,1129.1 L1914.0,1130.0 L1915.9,1130.8 L1917.8,1131.7 L1919.7,1132.6 L1921.6,1133.4 L1923.5,1134.3 L1925.4,1135.2 L1927.3,1136.1 L1929.2,1136.9 L1931.1,1137.8 L1933.0,1138.7 L1934.9,1139.6" fill="none" stroke="#1c1a8c" stroke-width="4.8" stroke-linejoin="round" stroke-linecap="round"/>
<path d="M332.5,385.3 L334.5,385.8 L336.4,386.3 L338.4,386.8 L340.3,387.3 L342.3,387.8 L344.2,388.4 L346.2,388.9 L348.1,389.4 L350.1,390.0 L352.0,390.5 L354.0,391.1 L355.9,391.6 L357.8,392.2 L359.8,392.8 L361.7,393.3 L363.6,393.9 L365.5,394.5 L367.5,395.1 L369.4,395.7 L371.3,396.3 L373.2,396.9 L375.2,397.5 L377.1,398.1 L379.0,398.7 L380.9,399.4 L382.8,400.0 L384.8,400.6 L386.7,401.2 L388.6,401.9 L390.5,402.5 L392.4,403.2 L394.3,403.8 L396.2,404.5 L398.1,405.1 L400.0,405.8 L401.9,406.5 L403.8,407.1 L405.8,407.8 L407.7,408.5 L409.6,409.1 L411.5,409.8 L413.4,410.5 L415.3,411.2 L417.2,411.9 L419.1,412.6 L421.0,413.3 L422.9,414.0 L424.8,414.6 L426.7,415.3 L428.6,416.0 L430.5,416.7 L432.4,417.4 L434.3,418.2 L436.2,418.9 L438.1,419.6 L440.0,420.3 L441.9,421.0 L443.9,421.7 L445.8,422.4 L447.7,423.1 L449.6,423.8 L451.5,424.5 L453.4,425.3 L455.3,426.0 L457.2,426.7 L459.1,427.4 L461.1,428.1 L463.0,428.8 L464.9,429.6 L466.8,430.3 L468.7,431.0 L470.6,431.7 L472.6,432.4 L474.5,433.1 L476.4,433.9 L478.3,434.6 L480.3,435.3 L482.2,436.0 L484.1,436.7 L486.0,437.5 L488.0,438.2 L489.9,438.9 L491.8,439.7 L493.7,440.4 L495.6,441.2 L497.5,441.9 L499.4,442.7 L501.3,443.5 L503.2,444.2 L505.1,445.0 L507.0,445.8 L508.8,446.6 L510.7,447.4 L512.6,448.3 L514.4,449.1 L516.3,449.9 L518.1,450.8 L519.9,451.7 L521.7,452.5 L523.6,453.4 L525.4,454.4 L527.1,455.3 L528.9,456.2 L530.7,457.2 L532.4,458.1 L534.2,459.1 L535.9,460.1 L537.6,461.2 L539.3,462.2 L541.0,463.3 L542.7,464.3 L544.4,465.4 L546.0,466.6 L547.6,467.7 L549.2,468.9 L550.8,470.0 L552.4,471.2 L554.0,472.4 L555.6,473.7 L557.1,474.9 L558.6,476.2 L560.1,477.5 L561.6,478.8 L563.1,480.1 L564.6,481.4 L566.0,482.8 L567.4,484.2 L568.9,485.6 L570.3,487.0 L571.6,488.4 L573.0,489.9 L574.4,491.3 L575.7,492.8 L577.0,494.3 L578.3,495.8 L579.6,497.3 L580.9,498.8 L582.1,500.4 L583.4,502.0 L584.6,503.5 L585.8,505.1 L587.0,506.7 L588.2,508.4 L589.3,510.0 L590.5,511.7 L591.6,513.3 L592.7,515.0 L593.8,516.7 L594.8,518.4 L595.9,520.1 L596.9,521.8 L598.0,523.6 L599.0,525.3 L600.0,527.1 L600.9,528.9 L601.9,530.7 L602.9,532.5 L603.8,534.3 L604.7,536.1 L605.7,537.9 L606.6,539.7 L607.5,541.6 L608.4,543.4 L609.3,545.3 L610.1,547.1 L611.0,549.0 L611.9,550.9 L612.7,552.7 L613.6,554.6 L614.5,556.5 L615.3,558.4 L616.1,560.3 L617.0,562.2 L617.8,564.1 L618.7,566.0 L619.5,567.9 L620.4,569.8 L621.2,571.7 L622.1,573.6 L622.9,575.5 L623.7,577.4 L624.6,579.3 L625.5,581.2 L626.3,583.1 L627.2,585.0 L628.1,586.9 L628.9,588.8 L629.8,590.7 L630.7,592.5 L631.6,594.4 L632.5,596.3 L633.5,598.2 L634.4,600.0 L635.3,601.9 L636.3,603.7 L637.2,605.6 L638.2,607.4 L639.2,609.3 L640.1,611.1 L641.1,612.9 L642.1,614.7 L643.2,616.5 L644.2,618.3 L645.2,620.0 L646.3,621.8 L647.3,623.6 L648.4,625.3 L649.5,627.0 L650.6,628.7 L651.7,630.4 L652.8,632.1 L654.0,633.8 L655.1,635.4 L656.3,637.1 L657.5,638.7 L658.7,640.3 L659.9,641.9 L661.1,643.4 L662.3,645.0 L663.6,646.5 L664.9,648.0 L666.2,649.5 L667.5,651.0 L668.8,652.4 L670.1,653.9 L671.5,655.3 L672.9,656.7 L674.3,658.0 L675.7,659.4 L677.1,660.7 L678.5,662.0 L680.0,663.3 L681.5,664.5 L683.0,665.7 L684.5,666.9 L686.0,668.1 L687.6,669.3 L689.2,670.4 L690.8,671.5 L692.4,672.6 L694.0,673.7 L695.6,674.8 L697.3,675.8 L698.9,676.8 L700.6,677.8 L702.3,678.8 L704.0,679.7 L705.7,680.7 L707.5,681.6 L709.2,682.5 L711.0,683.4 L712.8,684.3 L714.5,685.2 L716.3,686.0 L718.1,686.8 L720.0,687.6 L721.8,688.5 L723.6,689.2 L725.5,690.0 L727.3,690.8 L729.2,691.5 L731.1,692.3 L733.0,693.0 L734.9,693.7 L736.8,694.4 L738.7,695.1 L740.6,695.8 L742.6,696.5 L744.5,697.2 L746.4,697.8 L748.4,698.5 L750.3,699.1 L752.3,699.8 L754.3,700.4 L756.2,701.0 L758.2,701.6 L760.2,702.2 L762.2,702.8 L764.2,703.5 L766.2,704.0 L768.2,704.6 L770.2,705.2 L772.2,705.8 L774.2,706.4 L776.2,707.0 L778.2,707.6 L780.2,708.1 L782.2,708.7 L784.2,709.3 L786.2,709.9 L788.3,710.4 L790.3,711.0 L792.3,711.6 L794.3,712.2 L796.3,712.7 L798.3,713.3 L800.3,713.9 L802.3,714.5 L804.3,715.1 L806.3,715.7 L808.3,716.3 L810.3,716.9 L812.3,717.5 L814.3,718.1 L816.3,718.7 L818.2,719.3 L820.2,720.0 L822.2,720.6 L824.2,721.2 L826.1,721.9 L828.1,722.6 L830.0,723.2 L831.9,723.9 L833.9,724.6 L835.8,725.3 L837.7,726.0 L839.6,726.7 L841.6,727.4 L843.5,728.1 L845.4,728.8 L847.3,729.6 L849.1,730.3 L851.0,731.1 L852.9,731.8 L854.8,732.6 L856.6,733.4 L858.5,734.2 L860.3,735.0 L862.2,735.8 L864.0,736.6 L865.9,737.4 L867.7,738.3 L869.5,739.1 L871.3,740.0 L873.2,740.8 L875.0,741.7 L876.8,742.6 L878.5,743.4 L880.3,744.3 L882.1,745.3 L883.9,746.2 L885.7,747.1 L887.4,748.0 L889.2,749.0 L890.9,749.9 L892.7,750.9 L894.4,751.9 L896.1,752.9 L897.9,753.9 L899.6,754.9 L901.3,755.9 L903.0,756.9 L904.7,758.0 L906.4,759.0 L908.1,760.1 L909.8,761.1 L911.4,762.2 L913.1,763.3 L914.8,764.4 L916.4,765.5 L918.1,766.7 L919.7,767.8 L921.3,768.9 L923.0,770.1 L924.6,771.3 L926.2,772.4 L927.8,773.6 L929.4,774.8 L931.0,776.1 L932.6,777.3 L934.2,778.5 L935.8,779.8 L937.3,781.0 L938.9,782.3 L940.5,783.5 L942.0,784.8 L943.6,786.1 L945.1,787.4 L946.7,788.7 L948.2,790.0 L949.7,791.3 L951.3,792.7 L952.8,794.0 L954.3,795.3 L955.8,796.7 L957.4,798.0 L958.9,799.4 L960.4,800.8 L961.9,802.1 L963.4,803.5 L964.9,804.9 L966.4,806.3 L967.9,807.7 L969.4,809.0 L970.9,810.4 L972.4,811.8 L973.9,813.2 L975.4,814.6 L976.9,816.0 L978.4,817.5 L979.9,818.9 L981.3,820.3 L982.8,821.7 L984.3,823.1 L985.8,824.5 L987.3,825.9 L988.8,827.4 L990.3,828.8 L991.8,830.2 L993.2,831.6 L994.7,833.0 L996.2,834.4 L997.7,835.9 L999.2,837.3 L1000.7,838.7 L1002.2,840.1 L1003.7,841.5 L1005.2,842.9 L1006.7,844.3 L1008.2,845.7 L1009.7,847.1 L1011.2,848.5 L1012.7,849.9 L1014.2,851.3 L1015.8,852.6 L1017.3,854.0 L1018.8,855.4 L1020.3,856.7 L1021.9,858.1 L1023.4,859.4 L1025.0,860.8 L1026.5,862.1 L1028.0,863.5 L1029.6,864.8 L1031.2,866.1 L1032.7,867.4 L1034.3,868.7 L1035.9,870.0 L1037.4,871.3 L1039.0,872.6 L1040.6,873.9 L1042.2,875.2 L1043.8,876.4 L1045.4,877.7 L1047.0,878.9 L1048.6,880.2 L1050.2,881.4 L1051.8,882.7 L1053.5,883.9 L1055.1,885.1 L1056.7,886.3 L1058.4,887.5 L1060.0,888.7 L1061.6,889.9 L1063.3,891.1 L1064.9,892.3 L1066.6,893.4 L1068.3,894.6 L1069.9,895.7 L1071.6,896.9 L1073.3,898.0 L1074.9,899.2 L1076.6,900.3 L1078.3,901.4 L1080.0,902.5 L1081.7,903.7 L1083.4,904.8 L1085.1,905.9 L1086.8,906.9 L1088.5,908.0 L1090.2,909.1 L1091.9,910.2 L1093.7,911.2 L1095.4,912.3 L1097.1,913.4 L1098.8,914.4 L1100.6,915.4 L1102.3,916.5 L1104.1,917.5 L1105.8,918.5 L1107.5,919.5 L1109.3,920.5 L1111.1,921.5 L1112.8,922.5 L1114.6,923.5 L1116.3,924.5 L1118.1,925.4 L1119.9,926.4 L1121.7,927.4 L1123.5,928.3 L1125.2,929.3 L1127.0,930.2 L1128.8,931.1 L1130.6,932.1 L1132.4,933.0 L1134.2,933.9 L1136.0,934.8 L1137.8,935.7 L1139.6,936.6 L1141.4,937.5 L1143.3,938.4 L1145.1,939.3 L1146.9,940.1 L1148.7,941.0 L1150.6,941.9 L1152.4,942.7 L1154.2,943.6 L1156.1,944.4 L1157.9,945.2 L1159.7,946.1 L1161.6,946.9 L1163.4,947.7 L1165.3,948.5 L1167.1,949.3 L1169.0,950.1 L1170.9,950.9 L1172.7,951.7 L1174.6,952.4 L1176.5,953.2 L1178.3,954.0 L1180.2,954.7 L1182.1,955.5 L1184.0,956.2 L1185.8,957.0 L1187.7,957.7 L1189.6,958.4 L1191.5,959.2 L1193.4,959.9 L1195.3,960.6 L1197.2,961.3 L1199.1,962.0 L1201.0,962.7 L1202.9,963.4 L1204.8,964.1 L1206.7,964.7 L1208.6,965.4 L1210.5,966.1 L1212.4,966.7 L1214.3,967.4 L1216.3,968.0 L1218.2,968.6 L1220.1,969.3 L1222.0,969.9 L1224.0,970.5 L1225.9,971.1 L1227.8,971.7 L1229.7,972.4 L1231.7,972.9 L1233.6,973.5 L1235.6,974.1 L1237.5,974.7 L1239.4,975.3 L1241.4,975.8 L1243.3,976.4 L1245.3,977.0 L1247.2,977.5 L1249.2,978.1 L1251.1,978.6 L1253.1,979.1 L1255.0,979.7 L1257.0,980.2 L1259.0,980.7 L1260.9,981.2 L1262.9,981.7 L1264.9,982.2 L1266.8,982.7 L1268.8,983.2 L1270.8,983.7 L1272.7,984.2 L1274.7,984.7 L1276.7,985.2 L1278.7,985.6 L1280.6,986.1 L1282.6,986.6 L1284.6,987.0 L1286.6,987.5 L1288.5,987.9 L1290.5,988.4 L1292.5,988.8 L1294.5,989.3 L1296.5,989.7 L1298.5,990.2 L1300.5,990.6 L1302.4,991.0 L1304.4,991.4 L1306.4,991.8 L1308.4,992.3 L1310.4,992.7 L1312.4,993.1 L1314.4,993.5 L1316.4,993.9 L1318.4,994.3 L1320.4,994.7 L1322.4,995.1 L1324.4,995.5 L1326.4,995.9 L1328.4,996.2 L1330.4,996.6 L1332.4,997.0 L1334.4,997.4 L1336.4,997.8 L1338.4,998.1 L1340.4,998.5 L1342.4,998.9 L1344.4,999.2 L1346.4,999.6 L1348.4,1000.0 L1350.4,1000.3 L1352.5,1000.7 L1354.5,1001.0 L1356.5,1001.4 L1358.5,1001.8 L1360.5,1002.1 L1362.5,1002.5 L1364.5,1002.8 L1366.5,1003.2 L1368.5,1003.5 L1370.5,1003.8 L1372.5,1004.2 L1374.6,1004.5 L1376.6,1004.9 L1378.6,1005.2 L1380.6,1005.6 L1382.6,1005.9 L1384.6,1006.2 L1386.6,1006.6 L1388.6,1006.9 L1390.6,1007.2 L1392.7,1007.6 L1394.7,1007.9 L1396.7,1008.2 L1398.7,1008.6 L1400.7,1008.9 L1402.7,1009.2 L1404.7,1009.6 L1406.7,1009.9 L1408.7,1010.2 L1410.8,1010.6 L1412.8,1010.9 L1414.8,1011.2 L1416.8,1011.6 L1418.8,1011.9 L1420.8,1012.3 L1422.8,1012.6 L1424.8,1012.9 L1426.8,1013.3 L1428.8,1013.6 L1430.8,1013.9 L1432.8,1014.3 L1434.8,1014.6 L1436.8,1014.9 L1438.9,1015.3 L1440.9,1015.6 L1442.9,1016.0 L1444.9,1016.3 L1446.9,1016.6 L1448.9,1017.0 L1450.9,1017.3 L1452.9,1017.7 L1454.9,1018.0 L1456.9,1018.3 L1458.9,1018.7 L1460.9,1019.0 L1462.9,1019.3 L1464.9,1019.7 L1466.9,1020.0 L1468.9,1020.4 L1470.9,1020.7 L1472.9,1021.0 L1474.9,1021.4 L1476.9,1021.7 L1478.9,1022.1 L1480.9,1022.4 L1482.9,1022.7 L1484.9,1023.1 L1486.9,1023.4 L1488.9,1023.8 L1490.9,1024.1 L1492.9,1024.4 L1494.9,1024.8 L1496.9,1025.1 L1498.9,1025.5 L1500.9,1025.8 L1502.9,1026.1 L1504.9,1026.5 L1506.9,1026.8 L1508.9,1027.1 L1510.9,1027.5 L1512.9,1027.8 L1514.9,1028.2 L1516.9,1028.5 L1518.9,1028.8 L1520.9,1029.2 L1522.8,1029.5 L1524.8,1029.8 L1526.8,1030.2 L1528.8,1030.5 L1530.8,1030.8 L1532.8,1031.2 L1534.8,1031.5 L1536.8,1031.8 L1538.8,1032.2 L1540.8,1032.5 L1542.8,1032.8 L1544.8,1033.2 L1546.8,1033.5 L1548.8,1033.8 L1550.8,1034.1 L1552.8,1034.5 L1554.8,1034.8 L1556.8,1035.1 L1558.8,1035.4 L1560.8,1035.8 L1562.8,1036.1 L1564.8,1036.4 L1566.8,1036.7 L1568.8,1037.1 L1570.8,1037.4 L1572.8,1037.7 L1574.8,1038.0 L1576.8,1038.4 L1578.8,1038.7 L1580.8,1039.0 L1582.8,1039.3 L1584.8,1039.6 L1586.8,1039.9 L1588.8,1040.3 L1590.8,1040.6 L1592.8,1040.9 L1594.8,1041.2 L1596.8,1041.5 L1598.8,1041.8 L1600.8,1042.1 L1602.8,1042.5 L1604.8,1042.8 L1606.8,1043.1 L1608.8,1043.4 L1610.8,1043.7 L1612.8,1044.0 L1614.8,1044.3 L1616.8,1044.6 L1618.8,1044.9 L1620.9,1045.2 L1622.9,1045.5 L1624.9,1045.8 L1626.9,1046.1 L1628.9,1046.4 L1630.9,1046.7 L1632.9,1047.0 L1634.9,1047.3 L1636.9,1047.6 L1638.9,1047.9 L1640.9,1048.2 L1642.9,1048.5 L1644.9,1048.7 L1646.9,1049.0 L1649.0,1049.3 L1651.0,1049.6 L1653.0,1049.9 L1655.0,1050.2 L1657.0,1050.5 L1659.0,1050.7 L1661.0,1051.0 L1663.0,1051.3 L1665.0,1051.6 L1667.1,1051.9 L1669.1,1052.1 L1671.1,1052.4 L1673.1,1052.7 L1675.1,1053.0 L1677.1,1053.3 L1679.1,1053.5 L1681.1,1053.8 L1683.2,1054.1 L1685.2,1054.3 L1687.2,1054.6 L1689.2,1054.9 L1691.2,1055.2 L1693.2,1055.4 L1695.2,1055.7 L1697.3,1056.0 L1699.3,1056.2 L1701.3,1056.5 L1703.3,1056.8 L1705.3,1057.0 L1707.3,1057.3 L1709.4,1057.5 L1711.4,1057.8 L1713.4,1058.1 L1715.4,1058.3 L1717.4,1058.6 L1719.4,1058.9 L1721.5,1059.1 L1723.5,1059.4 L1725.5,1059.6 L1727.5,1059.9 L1729.5,1060.1 L1731.5,1060.4 L1733.6,1060.6 L1735.6,1060.9 L1737.6,1061.1 L1739.6,1061.4 L1741.6,1061.7 L1743.7,1061.9 L1745.7,1062.2 L1747.7,1062.4 L1749.7,1062.7 L1751.7,1062.9 L1753.8,1063.1 L1755.8,1063.4 L1757.8,1063.6 L1759.8,1063.9 L1761.8,1064.1 L1763.8,1064.4 L1765.9,1064.6 L1767.9,1064.9 L1769.9,1065.1 L1771.9,1065.3 L1773.9,1065.6 L1776.0,1065.8 L1778.0,1066.1 L1780.0,1066.3 L1782.0,1066.5 L1784.0,1066.8 L1786.1,1067.0 L1788.1,1067.3 L1790.1,1067.5 L1792.1,1067.7 L1794.1,1068.0 L1796.2,1068.2 L1798.2,1068.4 L1800.2,1068.7 L1802.2,1068.9 L1804.2,1069.1 L1806.3,1069.4 L1808.3,1069.6 L1810.3,1069.8 L1812.3,1070.1 L1814.3,1070.3 L1816.4,1070.5 L1818.4,1070.8 L1820.4,1071.0 L1822.4,1071.2 L1824.4,1071.5 L1826.5,1071.7 L1828.5,1071.9 L1830.5,1072.2 L1832.5,1072.4 L1834.5,1072.6 L1836.6,1072.8 L1838.6,1073.1 L1840.6,1073.3 L1842.6,1073.5 L1844.6,1073.7 L1846.6,1074.0 L1848.7,1074.2 L1850.7,1074.4 L1852.7,1074.6 L1854.7,1074.9 L1856.7,1075.1 L1858.8,1075.3 L1860.8,1075.5 L1862.8,1075.8 L1864.8,1076.0 L1866.8,1076.2 L1868.8,1076.4 L1870.9,1076.7 L1872.9,1076.9 L1874.9,1077.1 L1876.9,1077.3 L1878.9,1077.5 L1880.9,1077.8 L1883.0,1078.0 L1885.0,1078.2 L1887.0,1078.4 L1889.0,1078.6 L1891.0,1078.9 L1893.0,1079.1 L1895.0,1079.3 L1897.1,1079.5 L1899.1,1079.7 L1901.1,1080.0 L1903.1,1080.2 L1905.1,1080.4 L1907.1,1080.6 L1909.1,1080.8 L1911.2,1081.0 L1913.2,1081.3 L1915.2,1081.5 L1917.2,1081.7 L1919.2,1081.9 L1921.2,1082.1 L1923.2,1082.4 L1925.2,1082.6 L1927.3,1082.8 L1929.3,1083.0 L1931.3,1083.2 L1933.3,1083.4 L1935.3,1083.7" fill="none" stroke="#ff1515" stroke-width="4.8" stroke-linejoin="round" stroke-linecap="round"/>
<text class="an" x="1208" y="618" textLength="320" lengthAdjust="spacingAndGlyphs">GO-COOH</text>
<text class="an" x="1700" y="860" textLength="385" lengthAdjust="spacingAndGlyphs">GO-PAMAM</text>
<text class="an" x="1572" y="1244" textLength="533" lengthAdjust="spacingAndGlyphs">GO-PAMAM-BSA</text>
<line x1="1361.3" y1="622.9" x2="1225.2" y2="888.2" stroke="#000" stroke-width="4.6"/><polyline points="1222.8,865.7 1225.2,888.2 1246.1,876.5" fill="none" stroke="#000" stroke-width="4.6" stroke-linejoin="miter"/>
<line x1="1941.4" y1="866.7" x2="1874.3" y2="1064.5" stroke="#000" stroke-width="4.6"/><polyline points="1869.6,1043.7 1874.3,1064.5 1892.3,1050.4" fill="none" stroke="#000" stroke-width="4.6" stroke-linejoin="miter"/>
<line x1="1871" y1="1263.9" x2="1805" y2="1401.8" stroke="#000" stroke-width="4.6"/><polyline points="1801.6,1379.3 1805,1401.8 1824.3,1389.5" fill="none" stroke="#000" stroke-width="4.6" stroke-linejoin="miter"/>
</svg></body></html>
